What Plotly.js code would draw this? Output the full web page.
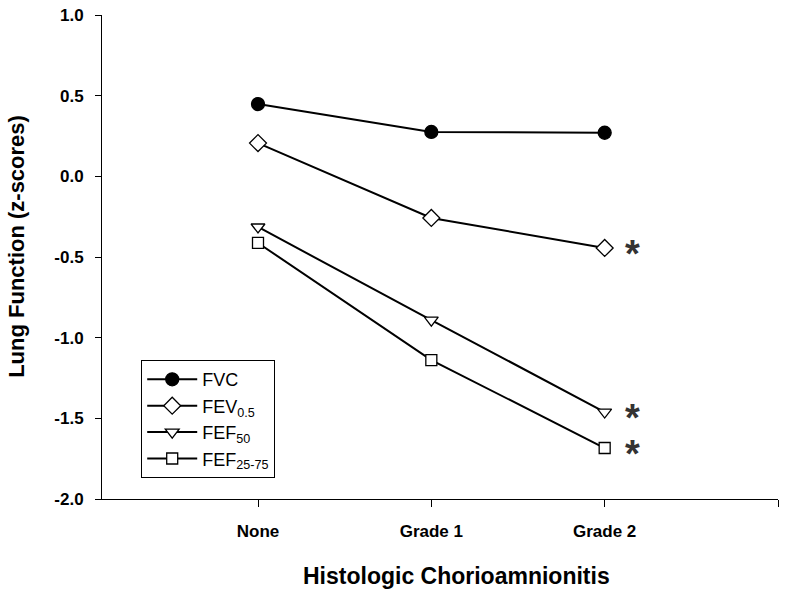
<!DOCTYPE html>
<html>
<head>
<meta charset="utf-8">
<script src="https://cdn.plot.ly/plotly-3.0.1.min.js"></script>
<style>html,body{margin:0;padding:0;background:#fff;}</style>
</head>
<body>
<div id="chart" style="width:785px;height:603px;"></div>
<script>
var categories = ['None', 'Grade 1', 'Grade 2'];
var catPos = [0, 1, 2];
var fvc = [0.448, 0.275, 0.27];
var fev05 = [0.206, -0.258, -0.444];
var fef50 = [-0.314, -0.891, -1.461];
var fef2575 = [-0.413, -1.139, -1.684];
var seriesNames = ['FVC', 'FEV<sub>0.5</sub>', 'FEF<sub>50</sub>', 'FEF<sub>25-75</sub>'];
var significantY = [-0.444, -1.461, -1.684];
var yTickVals = [-2.0, -1.5, -1.0, -0.5, 0.0, 0.5, 1.0];
var yTickText = ['-2.0', '-1.5', '-1.0', '-0.5', '0.0', '0.5', '1.0'];

function mk(y, name, symbol, size) {
  return {
    x: catPos, y: y, name: name, type: 'scatter', mode: 'lines+markers',
    line: {color: '#000', width: 2},
    marker: {symbol: symbol, size: size, color: symbol === 'circle' ? '#000' : '#fff',
             line: {color: '#000', width: 1.3}}
  };
}
var data = [
  mk(fvc, seriesNames[0], 'circle', 13),
  mk(fev05, seriesNames[1], 'diamond', 13),
  mk(fef50, seriesNames[2], 'triangle-down', 12),
  mk(fef2575, seriesNames[3], 'square', 11)
];

var annotations = significantY.map(function (v) {
  return {x: 2, y: v, xref: 'x', yref: 'y', text: '<b>*</b>', showarrow: false,
          xanchor: 'center', yanchor: 'middle', xshift: 28, yshift: -6,
          font: {family: 'Arial, Liberation Sans', size: 38, color: '#333'}};
});
annotations.push({
  xref: 'paper', yref: 'paper', x: 0.524, y: -0.159, xanchor: 'center', yanchor: 'middle',
  text: '<b>Histologic Chorioamnionitis</b>', showarrow: false,
  font: {family: 'Arial, Liberation Sans', size: 23, color: '#000'}
});
annotations.push({
  xref: 'paper', yref: 'paper', x: -0.1257, y: 0.521, xanchor: 'center', yanchor: 'middle',
  text: '<b>Lung Function (z-scores)</b>', showarrow: false, textangle: -90,
  font: {family: 'Arial, Liberation Sans', size: 22, color: '#000'}
});

var layout = {
  width: 785, height: 603,
  margin: {l: 102, r: 7, t: 15, b: 104},
  paper_bgcolor: '#fff', plot_bgcolor: '#fff',
  showlegend: true,
  legend: {x: 0.058, y: 0.287, xanchor: 'left', yanchor: 'top',
           bordercolor: '#000', borderwidth: 1, bgcolor: '#fff',
           font: {family: 'Arial, Liberation Sans', size: 18, color: '#000'},
           tracegroupgap: 0, itemwidth: 50},
  xaxis: {
    range: [-0.9, 3], tickmode: 'array', tickvals: [0, 1, 2, 3],
    ticktext: categories.concat(['']),
    showgrid: false, zeroline: false, showline: true, linecolor: '#000', linewidth: 1,
    ticks: 'outside', ticklen: 7, tickcolor: '#000', tickwidth: 1, ticklabelstandoff: 10,
    tickfont: {family: 'Arial, Liberation Sans', size: 17, color: '#000', weight: 'bold'}
  },
  yaxis: {
    range: [-2, 1], tickmode: 'array', tickvals: yTickVals, ticktext: yTickText,
    showgrid: false, zeroline: false, showline: true, linecolor: '#000', linewidth: 1,
    ticks: 'outside', ticklen: 6, tickcolor: '#000', tickwidth: 1, ticklabelstandoff: 8,
    tickfont: {family: 'Arial, Liberation Sans', size: 17, color: '#000', weight: 'bold'}
  },
  annotations: annotations
};
Plotly.newPlot('chart', data, layout, {displayModeBar: false, staticPlot: true});
</script>
</body>
</html>
